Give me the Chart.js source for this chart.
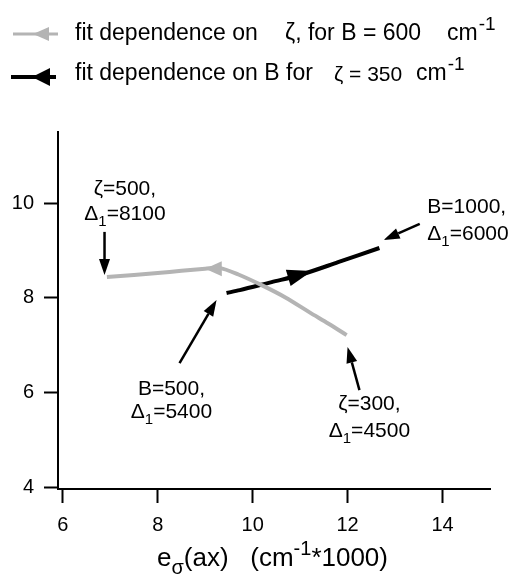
<!DOCTYPE html>
<html>

<head>
    <title>fit dependence on zeta and B</title>
    <meta charset="utf-8">
    <script src="https://cdn.jsdelivr.net/npm/chart.js"></script>
    <style>
        body { margin: 0; background: #fff; }
        #wrap { position: relative; width: 519px; height: 574px; font-family: "Liberation Sans", Arial, sans-serif; color: #000; }
        #myChart { position: absolute; left: 0; top: 0; }
        #glyphs { position: absolute; left: 0; top: 0; }
        .t { position: absolute; white-space: pre; font-size: 23px; line-height: 23px; }
        .sup { font-size: 19px; position: relative; top: -10px; margin-left: 1px; }
        .small { font-size: 21px; }
        .title { font-size: 26px; line-height: 26px; }
        .sub { font-size: 20px; position: relative; top: 8px; }
        .tsup { font-size: 20px; position: relative; top: -11px; }
    </style>
</head>

<body>
    <div id="wrap">
        <canvas id="myChart" width="519" height="574"></canvas>
        <svg id="glyphs" width="80" height="100">
            <line x1="13" y1="34" x2="58" y2="34" stroke="#b4b4b4" stroke-width="3" />
            <polygon points="33,34 49,27 49,41" fill="#b4b4b4" />
            <line x1="11" y1="77" x2="56" y2="77" stroke="#000" stroke-width="4" />
            <polygon points="32,77 50,68 50,86" fill="#000" />
        </svg>
        <div class="t" style="left:75px;top:21px">fit dependence on</div>
        <div class="t" style="left:285px;top:21px">ζ, for B = 600</div>
        <div class="t" style="left:447px;top:21px">cm<span class="sup">-1</span></div>
        <div class="t" style="left:75px;top:61px">fit dependence on B for</div>
        <div class="t small" style="left:334px;top:62px">ζ = 350</div>
        <div class="t" style="left:416px;top:61px">cm<span class="sup">-1</span></div>
        <div class="t title" style="left:157px;top:544px">e<span class="sub">σ</span>(ax)   (cm<span class="tsup">-1</span>*1000)</div>
    </div>

    <script>
        // curve for varying zeta (B = 600)
        const zetaX = [6.93, 7.5, 8.0, 8.5, 9.0, 9.3, 9.7, 10.2, 10.7, 11.2, 11.6, 11.98];
        const zetaY = [8.44, 8.48, 8.52, 8.57, 8.61, 8.63, 8.49, 8.26, 8.00, 7.69, 7.45, 7.21];
        // curve for varying B (zeta = 350)
        const bX = [9.45, 9.73, 10.4, 11.0, 11.8, 12.67];
        const bY = [8.10, 8.16, 8.33, 8.48, 8.75, 9.05];

        const xTicks = [6, 8, 10, 12, 14];
        const yTicks = [4, 6, 8, 10];

        const fam = '"Liberation Sans", Arial, sans-serif';

        // labelled arrows: text lines (baseline in data units), arrow from -> to
        const notes = [
            { lines: [["ζ=500,"], ["Δ", "1", "=8100"]], x: 7.31, y: [10.17, 9.64], align: "center",
              from: [6.88, 9.39], to: [6.88, 8.48] },
            { lines: [["B=1000,"], ["Δ", "1", "=6000"]], x: 13.68, y: [9.79, 9.22], align: "left",
              from: [13.52, 9.56], to: [12.76, 9.22] },
            { lines: [["B=500,"], ["Δ", "1", "=5400"]], x: 8.29, y: [5.94, 5.46], align: "center",
              from: [8.46, 6.62], to: [9.24, 7.95] },
            { lines: [["ζ=300,"], ["Δ", "1", "=4500"]], x: 12.46, y: [5.63, 5.06], align: "center",
              from: [12.25, 6.05], to: [12.0, 6.96] }
        ];

        // direction heads on the curves: tip x, base x (data units)
        const heads = [
            { xs: zetaX, ys: zetaY, tip: 9.0, base: 9.35, w: 7.5, color: "#b4b4b4" },
            { xs: bX, ys: bY, tip: 11.25, base: 10.75, w: 8.5, color: "#000" }
        ];

        function interp(xs, ys, x) {
            for (let i = 0; i < xs.length - 1; i++) {
                if (x >= xs[i] && x <= xs[i + 1]) {
                    let f = (x - xs[i]) / (xs[i + 1] - xs[i]);
                    return ys[i] + f * (ys[i + 1] - ys[i]);
                }
            }
            return ys[ys.length - 1];
        }

        function arrow(ctx, x1, y1, x2, y2) {
            let a = Math.atan2(y2 - y1, x2 - x1);
            let len = 16, hw = 5.5;
            let bx = x2 - len * Math.cos(a), by = y2 - len * Math.sin(a);
            ctx.beginPath();
            ctx.moveTo(x1, y1);
            ctx.lineTo(bx, by);
            ctx.lineWidth = 2.5;
            ctx.strokeStyle = "#000";
            ctx.stroke();
            ctx.beginPath();
            ctx.moveTo(x2, y2);
            ctx.lineTo(bx + hw * Math.sin(a), by - hw * Math.cos(a));
            ctx.lineTo(bx - hw * Math.sin(a), by + hw * Math.cos(a));
            ctx.closePath();
            ctx.fillStyle = "#000";
            ctx.fill();
        }

        function richText(ctx, segs, x, y, align) {
            let big = "21px " + fam, small = "15px " + fam;
            let w = 0;
            segs.forEach((s, i) => {
                ctx.font = (i == 1) ? small : big;
                w += ctx.measureText(s).width;
            });
            let cx = align == "center" ? x - w / 2 : x;
            ctx.textAlign = "left";
            ctx.textBaseline = "alphabetic";
            ctx.fillStyle = "#000";
            segs.forEach((s, i) => {
                ctx.font = (i == 1) ? small : big;
                ctx.fillText(s, cx, i == 1 ? y + 6 : y);
                cx += ctx.measureText(s).width;
            });
        }

        const notesPlugin = {
            id: "notes",
            afterDatasetsDraw(chart) {
                const ctx = chart.ctx;
                const sx = chart.scales.x, sy = chart.scales.y;
                ctx.save();
                heads.forEach(h => {
                    let tx = sx.getPixelForValue(h.tip), ty = sy.getPixelForValue(interp(h.xs, h.ys, h.tip));
                    let bx = sx.getPixelForValue(h.base), by = sy.getPixelForValue(interp(h.xs, h.ys, h.base));
                    let a = Math.atan2(ty - by, tx - bx);
                    ctx.beginPath();
                    ctx.moveTo(tx, ty);
                    ctx.lineTo(bx + h.w * Math.sin(a), by - h.w * Math.cos(a));
                    ctx.lineTo(bx - h.w * Math.sin(a), by + h.w * Math.cos(a));
                    ctx.closePath();
                    ctx.fillStyle = h.color;
                    ctx.fill();
                });
                notes.forEach(n => {
                    arrow(ctx, sx.getPixelForValue(n.from[0]), sy.getPixelForValue(n.from[1]),
                        sx.getPixelForValue(n.to[0]), sy.getPixelForValue(n.to[1]));
                    n.lines.forEach((segs, i) => {
                        richText(ctx, segs, sx.getPixelForValue(n.x), sy.getPixelForValue(n.y[i]), n.align);
                    });
                });
                ctx.restore();
            }
        };

        const ctx = document.getElementById("myChart");

        let chart = new Chart(ctx, {
            type: "line",
            data: {
                datasets: [{
                    label: "fit dependence on ζ, for B = 600 cm-1",
                    data: zetaX.map((x, i) => ({ x: x, y: zetaY[i] })),
                    borderColor: "#b4b4b4",
                    borderWidth: 4,
                    pointRadius: 0,
                    tension: 0.3
                }, {
                    label: "fit dependence on B for ζ = 350 cm-1",
                    data: bX.map((x, i) => ({ x: x, y: bY[i] })),
                    borderColor: "#000",
                    borderWidth: 4,
                    pointRadius: 0,
                    tension: 0.3
                }]
            },
            options: {
                responsive: false,
                animation: false,
                events: [],
                layout: { padding: { top: 132, right: 29, left: 0, bottom: 0 } },
                plugins: { legend: { display: false }, tooltip: { enabled: false } },
                scales: {
                    x: {
                        type: "linear",
                        position: "bottom",
                        min: 5.9,
                        max: 15,
                        afterBuildTicks: s => { s.ticks = xTicks.map(v => ({ value: v })); },
                        afterFit: s => { s.height = 85; },
                        border: { color: "#000", width: 2 },
                        grid: { drawOnChartArea: false, color: "#000", tickLength: 14, tickWidth: 2 },
                        ticks: { color: "#000", font: { size: 20, family: fam }, padding: 10, maxRotation: 0 }
                    },
                    y: {
                        type: "linear",
                        min: 3.96,
                        max: 11.5,
                        afterBuildTicks: s => { s.ticks = yTicks.map(v => ({ value: v })); },
                        afterFit: s => { s.width = 58; },
                        border: { color: "#000", width: 2 },
                        grid: { drawOnChartArea: false, color: "#000", tickLength: 14, tickWidth: 2 },
                        ticks: { color: "#000", font: { size: 20, family: fam }, padding: 10 }
                    }
                }
            },
            plugins: [notesPlugin]
        });
    </script>
</body>

</html>
